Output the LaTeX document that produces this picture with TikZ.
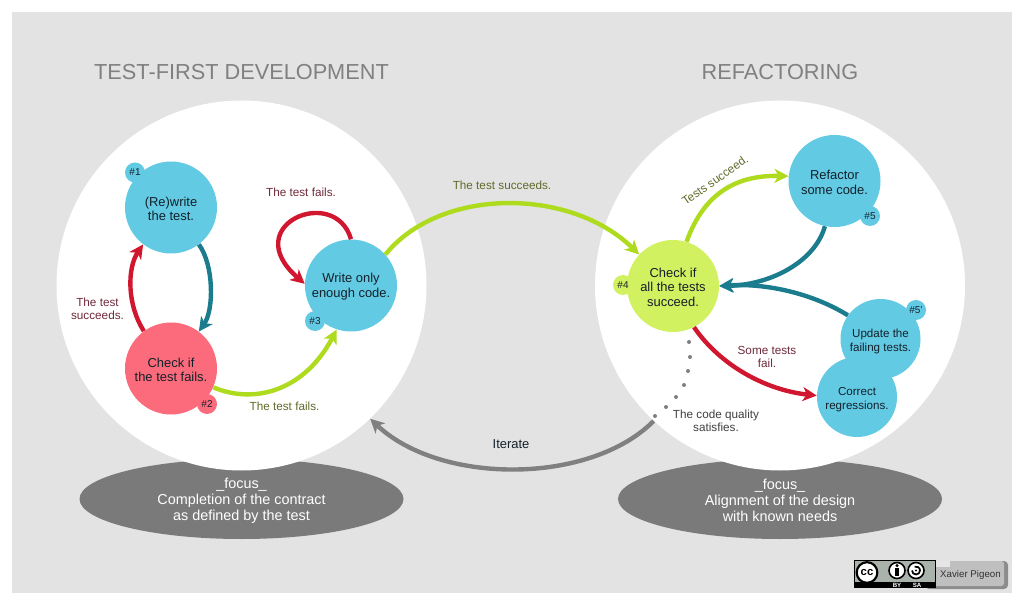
\documentclass[tikz,border=0pt]{standalone}
\usepackage{fontspec}
\setmainfont{Liberation Sans}
\usetikzlibrary{arrows.meta,shapes.geometric}
\definecolor{bggray}{HTML}{E3E3E3}
\definecolor{ellgray}{HTML}{7A7A7A}
\definecolor{skyb}{HTML}{62CAE3}
\definecolor{rosy}{HTML}{FB6B7B}
\definecolor{lime}{HTML}{D2F160}
\definecolor{linered}{HTML}{D0172F}
\definecolor{lineteal}{HTML}{1A7C8C}
\definecolor{linegreen}{HTML}{AEDB1E}
\definecolor{linegray}{HTML}{808080}
\definecolor{lblred}{HTML}{6E2A3A}
\definecolor{lblgreen}{HTML}{5F6B28}
\definecolor{txt}{HTML}{14202A}
\definecolor{ccgray}{HTML}{AAB3AB}
\newcommand{\lowstep}{\rule{0pt}{9pt}}
\newcommand{\lowsmall}{\rule{0pt}{10pt}}
\tikzset{
  zone/.style={circle,fill=white,minimum size=277.5pt,inner sep=0pt},
  focusell/.style={ellipse,fill=ellgray,minimum width=243pt,minimum height=60pt,inner sep=0pt},
  focustext/.style={text=white,align=center,font=\fontsize{10.8}{12}\selectfont},
  titletext/.style={text=linegray,font=\fontsize{16.3}{20}\selectfont},
  stepnode/.style={circle,minimum size=69pt,inner sep=0pt,align=center,text=txt,font=\fontsize{9.7}{10.8}\selectfont},
  smallnode/.style={circle,minimum size=60pt,inner sep=0pt,align=center,text=txt,font=\fontsize{8.7}{10}\selectfont},
  badge/.style={circle,minimum size=15pt,inner sep=0pt,text=txt,font=\fontsize{7.5}{8}\selectfont},
  lbl/.style={align=center,font=\fontsize{8.8}{9.6}\selectfont},
  link/.style={line width=3.3pt,-{Stealth[length=10.5pt,width=10.5pt,inset=3pt]}},
  dotpt/.style={circle,fill=linegray,minimum size=3pt,inner sep=0pt},
  ccring/.style={circle,fill=white,draw=black,line width=1.2pt,minimum size=12pt,inner sep=0pt},
  cctag/.style={text=white,font=\bfseries\fontsize{4.6}{5}\selectfont,inner sep=0pt},
}
\begin{document}
\begin{tikzpicture}[x=0.75pt,y=-0.75pt]
\useasboundingbox (0,0) rectangle (1023,605);
\fill[white] (0,0) rectangle (1023,605);
\fill[bggray] (12,12) rectangle (1012,593);
% focus ellipses and zones
\node[focusell] (lell) at (241.5,499) {};
\node[focusell] (rell) at (780,499) {};
\node[zone] (lzone) at (241.5,285.5) {};
\node[zone] (rzone) at (780,285.5) {};
\node[focustext] (lfoc) at (241.5,500.5) {\_focus\_\\Completion of the contract\\as defined by the test};
\node[focustext] (rfoc) at (780,500.5) {\_focus\_\\Alignment of the design\\with known needs};
\node[titletext] (ltitle) at (241.5,72) {TEST-FIRST DEVELOPMENT};
\node[titletext] (rtitle) at (780,72) {REFACTORING};
% steps
\node[stepnode,fill=skyb] (rewrite) at (171,207.5) {\lowstep(Re)write\\the test.};
\node[badge,fill=skyb] (b1) at (135,172.5) {\#1};
\node[stepnode,fill=rosy] (fails) at (171,368.5) {\lowstep Check if\\the test fails.};
\node[badge,fill=rosy] (b2) at (207,404) {\#2};
\node[stepnode,fill=skyb] (write) at (351,285.5) {\lowstep Write only\\enough code.};
\node[badge,fill=skyb] (b3) at (315,321) {\#3};
\node[stepnode,fill=lime] (all) at (673,286) {\lowstep Check if\\all the tests\\succeed.};
\node[badge,fill=lime] (b4) at (623,285) {\#4};
\node[stepnode,fill=skyb] (refactor) at (834.5,181) {\lowstep Refactor\\some code.};
\node[badge,fill=skyb] (b5) at (870,216) {\#5};
\node[smallnode,fill=skyb] (update) at (880.5,339) {\lowsmall Update the\\failing tests.};
\node[badge,fill=skyb] (b5p) at (916,310) {\#5'};
\node[smallnode,fill=skyb] (correct) at (857,397) {\lowsmall Correct\\regressions.};
% connectors
\draw[link,lineteal] (rewrite.307) .. controls (214,265) and (214,310) .. (fails.53);
\draw[link,linered] (fails.126) .. controls (127,305) and (127,268) .. (rewrite.233);
\draw[link,linered] (write.90) .. controls (335,184) and (237,225) .. (write.178);
\draw[link,linegreen] (fails.-24) .. controls (255,405) and (305,390) .. (write.252);
\draw[link,linegreen] (write.42) .. controls (440,187) and (570,187) .. (all.137);
\draw[link,linegreen] (all.73) .. controls (705,190) and (740,175) .. (refactor.174);
\draw[link,lineteal] (refactor.258) .. controls (815,262) and (770,285) .. (all.0);
\draw[link,lineteal] (update.144) .. controls (812,293) and (765,283) .. (all.0);
\draw[link,linered] (all.-63) .. controls (720,365) and (765,390) .. (correct.178);
\draw[link,linegray] (rzone.227) .. controls (590,485) and (440,485) .. (lzone.-46);
% dots
\foreach \i/\p in {1/{689,342},2/{690,357},3/{688,371},4/{684,385},5/{676,397},6/{666,407},7/{655,416}}
  \node[dotpt] (d\i) at (\p) {};
% labels
\node[lbl,text=lblred] (l1) at (97.5,309) {The test\\succeeds.};
\node[lbl,text=lblred] (l2) at (301,192) {The test fails.};
\node[lbl,text=lblgreen] (l3) at (284.5,406) {The test fails.};
\node[lbl,text=lblgreen] (l4) at (502,185.5) {The test succeeds.};
\node[lbl,text=lblgreen,rotate=35] (l5) at (715,180) {Tests succeed.};
\node[lbl,text=lblred] (l6) at (767,357) {Some tests\\fail.};
\node[lbl,text=black!75] (l7) at (716,421) {The code quality\\satisfies.};
\node[lbl,text=txt,font=\fontsize{9.7}{10}\selectfont] (l8) at (511,444) {Iterate};
% licence badge
\fill[black!45,rounded corners=3pt] (925,561) rectangle (1008,589);
\fill[black!25,rounded corners=2pt] (925,561) rectangle (1004,586);
\fill[black!10] (936,561) rectangle (950,567);
\fill[black] (854,560) rectangle (936,588);
\fill[ccgray] (855,561) rectangle (935,582);
\node[circle,fill=white,draw=black,line width=1.6pt,minimum size=15.5pt,inner sep=0pt,font=\bfseries\fontsize{8.5}{9}\selectfont] (cc) at (867,572.5) {cc};
\node[ccring] (by) at (897,570.5) {};
\fill[black] (897,565.5) circle (1.3pt);
\fill[black] (895,568) rectangle (899,576);
\node[ccring] (sa) at (916,570.5) {};
\draw[black,line width=1.3pt] (sa.center) ++(-4,0) arc (180:-110:4);
\fill[black] (sa.center) circle (0.8pt);
\node[cctag] (bytxt) at (897,585) {BY};
\node[cctag] (satxt) at (917,585) {SA};
\node[text=black!80,font=\fontsize{7.3}{8}\selectfont,inner sep=0pt] (author) at (970.5,574.5) {Xavier Pigeon};
\end{tikzpicture}
\end{document}
